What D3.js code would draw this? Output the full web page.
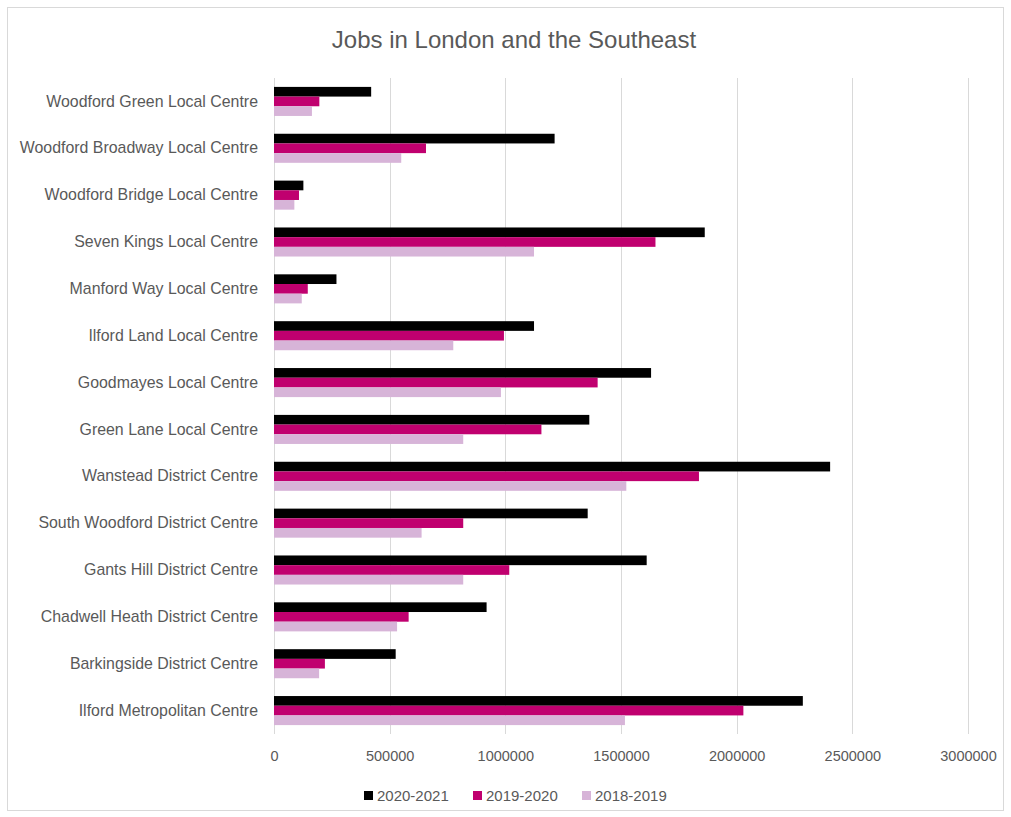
<!DOCTYPE html>
<html>
<head>
<meta charset="utf-8">
<script src="https://cdn.jsdelivr.net/npm/d3@7"></script>
<style>
  body { margin: 0; background: #fff; }
  text { font-family: "Liberation Sans", Arial, sans-serif; fill: #595959; }
</style>
</head>
<body>
<div id="chart"></div>
<script>
// data (top row first)
var centres = [
    "Woodford Green Local Centre",
    "Woodford Broadway Local Centre",
    "Woodford Bridge Local Centre",
    "Seven Kings Local Centre",
    "Manford Way Local Centre",
    "Ilford Land Local Centre",
    "Goodmayes Local Centre",
    "Green Lane Local Centre",
    "Wanstead District Centre",
    "South Woodford District Centre",
    "Gants Hill District Centre",
    "Chadwell Heath District Centre",
    "Barkingside District Centre",
    "Ilford Metropolitan Centre"
];
var years = ["2020-2021", "2019-2020", "2018-2019"];
var jobs2021 = [420000, 1213000, 127000, 1862000, 270000, 1124000, 1630000, 1363000, 2404000, 1356000, 1611000, 919000, 526000, 2286000];
var jobs2020 = [196000, 657000, 108000, 1649000, 146000, 994000, 1399000, 1156000, 1837000, 818000, 1017000, 582000, 220000, 2029000];
var jobs2019 = [164000, 550000, 88000, 1124000, 120000, 775000, 981000, 818000, 1523000, 638000, 818000, 532000, 195000, 1517000];
var xTicks = [0, 500000, 1000000, 1500000, 2000000, 2500000, 3000000];
var colours = ["#000000", "#c0006f", "#d7b4d8"];

var width = 1011, height = 817;
// plot box (note: "top" is taken by window.top)
var plotL = 274, plotR = 968, plotT = 78, plotB = 734;

var series = [jobs2021, jobs2020, jobs2019];
var rows = centres.map(function (c, i) {
    return {name: c, values: series.map(function (s, k) { return {year: years[k], v: s[i]}; })};
});

var svg = d3.select("#chart").append("svg")
    .attr("width", width)
    .attr("height", height);

svg.append("rect")
    .attr("x", 7.5).attr("y", 7.5)
    .attr("width", 996).attr("height", 803)
    .attr("fill", "#fff")
    .attr("stroke", "#d9d9d9");

svg.append("text")
    .attr("x", 514).attr("y", 48)
    .attr("text-anchor", "middle")
    .style("font-size", "24px")
    .text("Jobs in London and the Southeast");

var x = d3.scaleLinear().domain([0, 3000000]).range([plotL, plotR]);
var y = d3.scaleBand().domain(centres).range([plotT, plotB])
    .paddingInner(0.38).paddingOuter(0.19);
var ySub = d3.scaleBand().domain(years).range([0, y.bandwidth()]);

// gridlines
svg.append("g").selectAll("line")
    .data(xTicks)
    .enter().append("line")
    .attr("x1", function (d) { return Math.round(x(d)) + 0.5; })
    .attr("x2", function (d) { return Math.round(x(d)) + 0.5; })
    .attr("y1", plotT).attr("y2", plotB)
    .attr("stroke", "#d9d9d9");

var xAxis = svg.append("g")
    .attr("transform", "translate(0," + plotB + ")")
    .call(d3.axisBottom(x).tickValues(xTicks).tickSize(0).tickPadding(17).tickFormat(d3.format("d")));
xAxis.select(".domain").remove();
xAxis.selectAll("text").style("font-size", "14.5px").attr("fill", "#595959");

var yAxis = svg.append("g")
    .attr("transform", "translate(" + (plotL - 16) + ",0)")
    .call(d3.axisLeft(y).tickSize(0).tickPadding(0));
yAxis.select(".domain").remove();
yAxis.selectAll("text").style("font-size", "15.9px").attr("fill", "#595959");

var groups = svg.append("g").selectAll("g")
    .data(rows)
    .enter().append("g")
    .attr("transform", function (d) { return "translate(0," + y(d.name) + ")"; });

groups.selectAll("rect")
    .data(function (d) { return d.values; })
    .enter().append("rect")
    .attr("x", x(0))
    .attr("y", function (d) { return ySub(d.year); })
    .attr("height", ySub.bandwidth())
    .attr("width", function (d) { return x(d.v) - x(0); })
    .attr("fill", function (d, i) { return colours[i]; });

// legend
var legendX = [364, 473, 582];
var legend = svg.append("g").selectAll("g")
    .data(years)
    .enter().append("g")
    .attr("transform", function (d, i) { return "translate(" + legendX[i] + ",791)"; });
legend.append("rect")
    .attr("width", 9).attr("height", 9)
    .attr("fill", function (d, i) { return colours[i]; });
legend.append("text")
    .attr("x", 13).attr("y", 10)
    .style("font-size", "15px")
    .text(function (d) { return d; });
</script>
</body>
</html>
